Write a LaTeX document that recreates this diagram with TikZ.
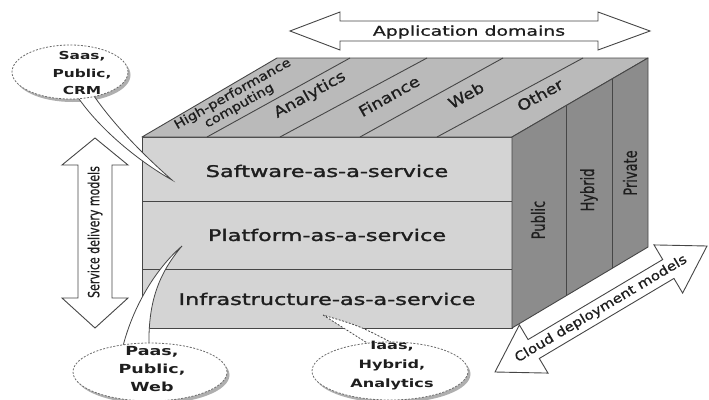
\documentclass[tikz,border=0pt]{standalone}
\usepackage{fontspec}
\setmainfont{DejaVu Sans}
\newfontfamily\semibfont[FakeBold=1.4]{DejaVu Sans}
\newfontfamily\medfont[FakeBold=0.7]{DejaVu Sans}
\usetikzlibrary{calc}
\definecolor{frontc}{RGB}{212,212,212}
\definecolor{topc}{RGB}{186,186,186}
\definecolor{sidec}{RGB}{140,140,140}
\definecolor{edgec}{RGB}{70,70,70}
\definecolor{txtc}{RGB}{30,30,30}
\definecolor{shadc}{RGB}{175,175,175}
\begin{document}
\begin{tikzpicture}[x=1pt,y=-1pt,
  edge/.style={draw=edgec, line width=0.9pt, line join=round},
  stretched/.style={inner sep=0pt, text=txtc, xscale=1.4},
  boxlbl/.style={stretched, font=\semibfont\fontsize{16}{18}\selectfont},
  toplbl/.style={inner sep=0pt, text=txtc, rotate=29.4, xscale=1.17, font=\medfont\fontsize{15}{16}\selectfont},
  sidelbl/.style={stretched, font=\medfont\fontsize{13}{15}\selectfont, rotate=90},
  arrowlbl/.style={stretched, font=\medfont\fontsize{13.5}{15}\selectfont},
  bigarrow/.style={draw=edgec, fill=white, line width=0.9pt, line join=miter},
  bubble/.style={fill=white, draw=edgec!80, line width=0.8pt, dash pattern=on 2pt off 1.5pt},
  tail/.style={fill=white, draw=edgec, line width=0.8pt},
  bubtxt/.style={stretched, align=center, font=\bfseries\fontsize{11}{17.5}\selectfont}
]
\useasboundingbox (0,0) rectangle (709,399);

% ---------- cube ----------
\coordinate (A) at (142,137);
\coordinate (B) at (512,137);
\coordinate (C) at (512,328);
\coordinate (D) at (142,328);
\coordinate (E) at (277,58);
\coordinate (F) at (648,58);
\coordinate (G) at (648,247);

\filldraw[edge, fill=frontc] (A) -- (B) -- (C) -- (D) -- cycle;
\filldraw[edge, fill=topc] (A) -- (E) -- (F) -- (B) -- cycle;
\filldraw[edge, fill=sidec] (B) -- (F) -- (G) -- (C) -- cycle;

% front layers
\coordinate (l1a) at (142,201); \coordinate (l1b) at (512,201);
\coordinate (l2a) at (142,269); \coordinate (l2b) at (512,269);
\draw[edge] (l1a) -- (l1b);
\draw[edge] (l2a) -- (l2b);

% top strips
\coordinate (t1a) at (207,137); \coordinate (t1b) at (350,58);
\coordinate (t2a) at (280,137); \coordinate (t2b) at (427,58);
\coordinate (t3a) at (360,137); \coordinate (t3b) at (503,58);
\coordinate (t4a) at (437,137); \coordinate (t4b) at (583,58);
\draw[edge] (t1a) -- (t1b);
\draw[edge] (t2a) -- (t2b);
\draw[edge] (t3a) -- (t3b);
\draw[edge] (t4a) -- (t4b);

% side strips
\coordinate (s1a) at (566,105.6); \coordinate (s1b) at (566,295.8);
\coordinate (s2a) at (612,79); \coordinate (s2b) at (612,268.4);
\draw[edge] (s1a) -- (s1b);
\draw[edge] (s2a) -- (s2b);

% labels
\node[boxlbl] (saas) at (327,171) {Saftware-as-a-service};
\node[boxlbl] (paas) at (327,235) {Platform-as-a-service};
\node[boxlbl] (iaas) at (327,299) {Infrastructure-as-a-service};

\node[inner sep=0pt, text=txtc, rotate=29.4, xscale=1.16, align=center, font=\medfont\fontsize{12.5}{13.5}\selectfont] (hpc) at (236,100) {High-performance\\computing};
\node[toplbl] (ana) at (310,95) {Analytics};
\node[toplbl] (fin) at (389,96) {Finance};
\node[toplbl] (web) at (466,95) {Web};
\node[toplbl] (oth) at (540,95) {Other};

\node[sidelbl] (pub) at (538,220) {Public};
\node[sidelbl] (hyb) at (589,190) {Hybrid};
\node[sidelbl] (pri) at (630,173) {Private};

% ---------- big arrows ----------
\draw[bigarrow] (290,31) -- (340,12) -- (340,21) -- (598,21) -- (598,12) -- (650,31)
  -- (598,50) -- (598,41) -- (340,41) -- (340,50) -- cycle;
\node[arrowlbl] (appd) at (469,32) {Application domains};

\draw[bigarrow] (95,138) -- (128,165) -- (112,165) -- (112,298) -- (128,298) -- (95,328)
  -- (62,298) -- (78,298) -- (78,165) -- (62,165) -- cycle;
\node[stretched, rotate=90, font=\medfont\fontsize{11}{12}\selectfont] (sdm) at (95,232) {Service delivery models};

\coordinate (c1) at (495,372);
\coordinate (c2) at (707,246);
\coordinate (h1) at ($(c1)!45pt!(c2)$);
\coordinate (h2) at ($(c2)!45pt!(c1)$);
\draw[bigarrow] (c1) -- ($(h1)!28pt!90:(c2)$) -- ($(h1)!11pt!90:(c2)$)
  -- ($(h2)!11pt!-90:(c1)$) -- ($(h2)!28pt!-90:(c1)$) -- (c2)
  -- ($(h2)!28pt!90:(c1)$) -- ($(h2)!11pt!90:(c1)$)
  -- ($(h1)!11pt!-90:(c2)$) -- ($(h1)!28pt!-90:(c2)$) -- cycle;
\node[inner sep=0pt, text=txtc, rotate=30.7, xscale=1.16, font=\medfont\fontsize{13}{14}\selectfont] (cdm) at ($(c1)!0.5!(c2)$) {Cloud deployment models};

% ---------- callouts ----------
% Saas
\fill[shadc] (72.5,75) ellipse [x radius=58pt, y radius=27pt];
\draw[tail] (77,96) .. controls (100,130) and (140,162) .. (172,180)
  .. controls (140,152) and (112,122) .. (94,96) -- cycle;
\draw[bubble] (70,72) ellipse [x radius=58pt, y radius=27pt];
\node[bubtxt] (bsaas) at (82,73) {Saas,\\Public,\\CRM};

% Paas
\fill[shadc] (152.5,375) ellipse [x radius=77pt, y radius=29pt];
\draw[tail] (123,346) .. controls (135,300) and (160,265) .. (182,246)
  .. controls (160,272) and (148,300) .. (149,346) -- cycle;
\draw[bubble] (150,372) ellipse [x radius=77pt, y radius=29pt];
\node[bubtxt, font=\bfseries\fontsize{12.5}{18}\selectfont] (bpaas) at (152,369) {Paas,\\Public,\\Web};

% Iaas
\fill[shadc] (392.5,374) ellipse [x radius=78pt, y radius=29pt];
\draw[tail, dash pattern=on 2pt off 1.5pt] (323,315) -- (372,346) -- (398,346)
  .. controls (360,326) .. (323,315);
\draw[bubble] (390,371) ellipse [x radius=78pt, y radius=29pt];
\node[bubtxt, font=\bfseries\fontsize{11.5}{19}\selectfont] (biaas) at (392,366) {Iaas,\\Hybrid,\\Analytics};

\end{tikzpicture}
\end{document}
